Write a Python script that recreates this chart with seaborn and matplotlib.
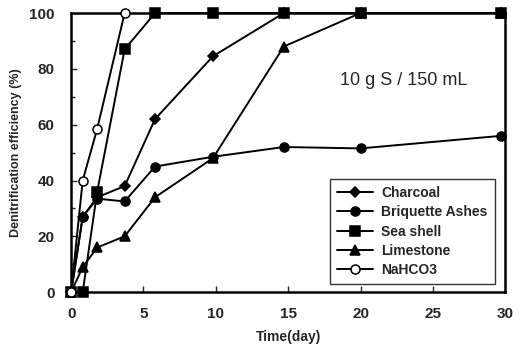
import matplotlib
matplotlib.use("Agg")
import matplotlib.pyplot as plt
import seaborn as sns
import pandas as pd
from matplotlib.ticker import MultipleLocator

sns.set_style("ticks")
plt.rcParams['font.family'] = ['Liberation Sans', 'DejaVu Sans']

days = [0, 0.8, 1.8, 3.7, 5.8, 9.8, 14.7, 20, 29.7]
charcoal = [0, 27, 34, 38, 62, 84.5, 100, 100, 100]
briquette = [0, 27, 33.5, 32.5, 45, 48.5, 52, 51.5, 56]
seashell = [0, 0, 36, 87, 100, 100, 100, 100, 100]
limestone = [0, 9, 16, 20, 34, 48, 88, 100, 100]
nahco3_days = [0, 0.8, 1.8, 3.7]
nahco3 = [0, 40, 58.5, 100]

series = [
    ("Charcoal", days, charcoal, "D", 5, "black"),
    ("Briquette Ashes", days, briquette, "o", 6.5, "black"),
    ("Sea shell", days, seashell, "s", 7, "black"),
    ("Limestone", days, limestone, "^", 6.5, "black"),
    ("NaHCO3", nahco3_days, nahco3, "o", 6.5, "white"),
]

fig = plt.figure(figsize=(5.23, 3.52), dpi=100)
ax = fig.add_axes([0.136, 0.170, 0.830, 0.793])

for name, x, y, m, ms, fc in series:
    df = pd.DataFrame({"x": x, "y": y})
    sns.lineplot(data=df, x="x", y="y", ax=ax, color="black", lw=1.4,
                 marker=m, markersize=ms, markerfacecolor=fc,
                 markeredgecolor="black", markeredgewidth=1.1, label=name,
                 clip_on=False, zorder=3)

ax.set_xlim(0, 30)
ax.set_ylim(0, 100)
ax.xaxis.set_major_locator(MultipleLocator(5))
ax.yaxis.set_major_locator(MultipleLocator(20))
ax.yaxis.set_minor_locator(MultipleLocator(10))
ax.tick_params(direction="in", length=4, width=1, labelsize=11)
ax.tick_params(axis="x", pad=11)
ax.tick_params(axis="y", pad=12)
ax.tick_params(which="minor", direction="in", length=3, width=1)
for lab in ax.get_xticklabels() + ax.get_yticklabels():
    lab.set_fontweight("bold")
for sp in ax.spines.values():
    sp.set_linewidth(1.8)
    sp.set_color("black")

ax.set_xlabel("Time(day)", fontsize=10, fontweight="bold", labelpad=6)
ax.set_ylabel("Denitrification efficiency (%)", fontsize=9, fontweight="bold", labelpad=5)

ax.text(23, 76, "10 g S / 150 mL", fontsize=13, ha="center", va="center")

leg = ax.legend(loc="upper left", bbox_to_anchor=(0.58, 0.43), frameon=True,
                fancybox=False, edgecolor="black", fontsize=10,
                handlelength=2.6, handletextpad=0.6, labelspacing=0.38,
                borderpad=0.5)
leg.get_frame().set_linewidth(1.0)
for t in leg.get_texts():
    t.set_fontweight("bold")

fig.savefig("out.png", dpi=100)
